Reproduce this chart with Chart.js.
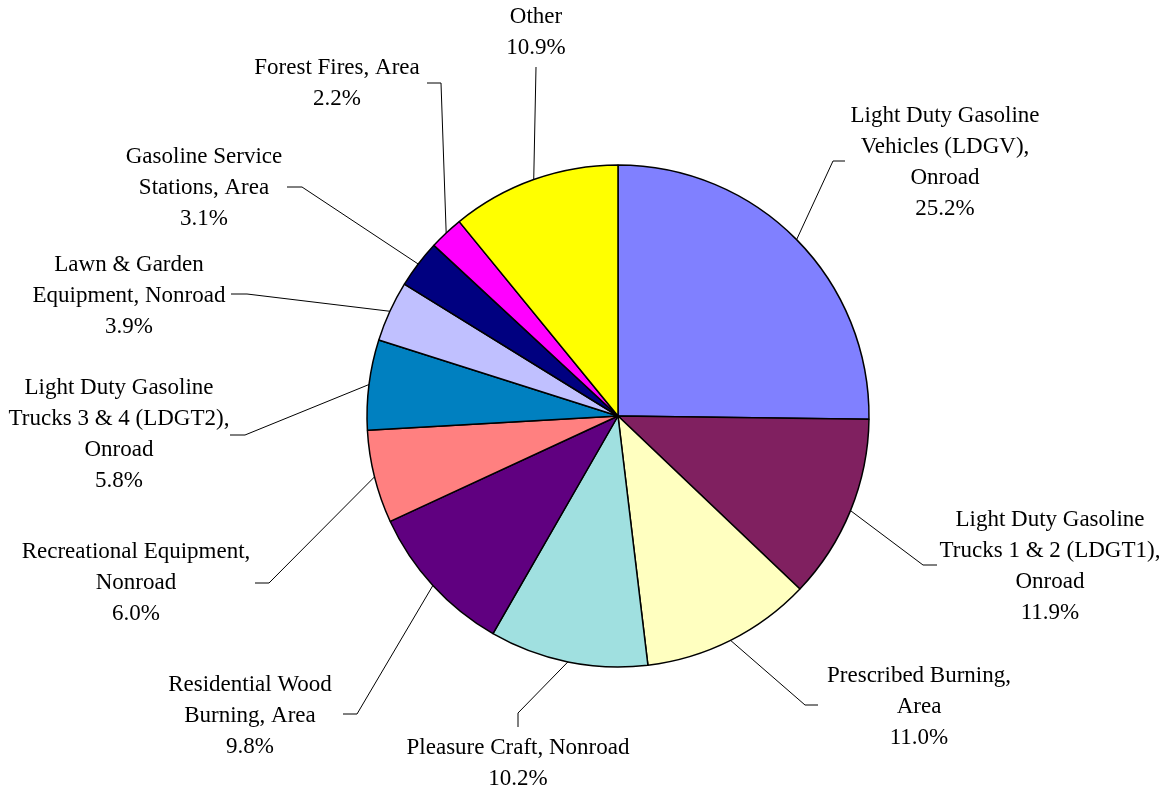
<!DOCTYPE html>
<html>
<head>
<meta charset="utf-8">
<title>Emissions by source</title>
<script src="https://cdn.jsdelivr.net/npm/chart.js@4.4.0/dist/chart.umd.min.js"></script>
<style>
    body { margin: 0; background: #ffffff; }
    canvas { display: block; }
</style>
</head>
<body>
<canvas id="myChart" width="1166" height="793"></canvas>
<script>
// source categories, each one split into the lines it is printed on
const categories = [
    ["Light Duty Gasoline", "Vehicles (LDGV),", "Onroad"],
    ["Light Duty Gasoline", "Trucks 1 & 2 (LDGT1),", "Onroad"],
    ["Prescribed Burning,", "Area"],
    ["Pleasure Craft, Nonroad"],
    ["Residential Wood", "Burning, Area"],
    ["Recreational Equipment,", "Nonroad"],
    ["Light Duty Gasoline", "Trucks 3 & 4 (LDGT2),", "Onroad"],
    ["Lawn & Garden", "Equipment, Nonroad"],
    ["Gasoline Service", "Stations, Area"],
    ["Forest Fires, Area"],
    ["Other"]
];
const shares = [25.2, 11.9, 11.0, 10.2, 9.8, 6.0, 5.8, 3.9, 3.1, 2.2, 10.9];
const sliceColors = [
    "#8080FF", "#802060", "#FFFFC0", "#A0E0E0", "#600080", "#FF8080",
    "#0080C0", "#C0C0FF", "#000080", "#FF00FF", "#FFFF00"
];

// where each label block sits (centre x, first line y) and the bends of its leader line
const labelBoxes = [
    { x: 945, y: 116, bend: [[833, 161], [845, 161]] },
    { x: 1050, y: 520, bend: [[923, 565], [937, 565]] },
    { x: 919, y: 676, bend: [[805, 705], [818, 705]] },
    { x: 518, y: 748, bend: [[518, 713], [518, 727]] },
    { x: 250, y: 685, bend: [[357, 714], [343, 714]] },
    { x: 136, y: 552, bend: [[269, 583], [255, 583]] },
    { x: 119, y: 388, bend: [[245, 435], [230, 435]] },
    { x: 129, y: 265, bend: [[247, 294], [231, 294]] },
    { x: 204, y: 157, bend: [[302, 187], [287, 187]] },
    { x: 337, y: 68, bend: [[441, 83], [427, 83]] },
    { x: 536, y: 17, bend: [[536, 67]] }
];
const lineHeight = 31;

const sliceLabels = {
    id: "sliceLabels",
    afterDatasetsDraw(chart) {
        const ctx = chart.ctx;
        const arcs = chart.getDatasetMeta(0).data;
        ctx.save();
        ctx.strokeStyle = "#000000";
        ctx.lineWidth = 1;
        arcs.forEach((arc, i) => {
            const p = arc.getProps(["x", "y", "startAngle", "endAngle", "outerRadius"], true);
            const mid = (p.startAngle + p.endAngle) / 2;
            const box = labelBoxes[i];
            ctx.beginPath();
            ctx.moveTo(p.x + Math.cos(mid) * p.outerRadius, p.y + Math.sin(mid) * p.outerRadius);
            box.bend.forEach((pt) => ctx.lineTo(pt[0], pt[1]));
            ctx.stroke();
        });

        ctx.fillStyle = "#000000";
        ctx.font = "23px 'Liberation Serif', 'Times New Roman', serif";
        ctx.textAlign = "center";
        ctx.textBaseline = "middle";
        categories.forEach((lines, i) => {
            const box = labelBoxes[i];
            const text = lines.concat([shares[i].toFixed(1) + "%"]);
            text.forEach((t, k) => ctx.fillText(t, box.x, box.y + k * lineHeight));
        });
        ctx.restore();
    }
};

function renderChart() {
    const ctx = document.getElementById("myChart").getContext("2d");
    new Chart(ctx, {
        type: "pie",
        data: {
            labels: categories.map((c) => c.join(" ")),
            datasets: [{
                data: shares,
                backgroundColor: sliceColors,
                borderColor: "#000000",
                borderWidth: 1.5,
                radius: 251,
            }],
        },
        options: {
            responsive: false,
            animation: false,
            layout: { padding: { left: 70, top: 39 } },
            plugins: {
                legend: { display: false },
                tooltip: { enabled: false },
            },
        },
        plugins: [sliceLabels],
    });
}

document.addEventListener("DOMContentLoaded", renderChart);
</script>
</body>
</html>
